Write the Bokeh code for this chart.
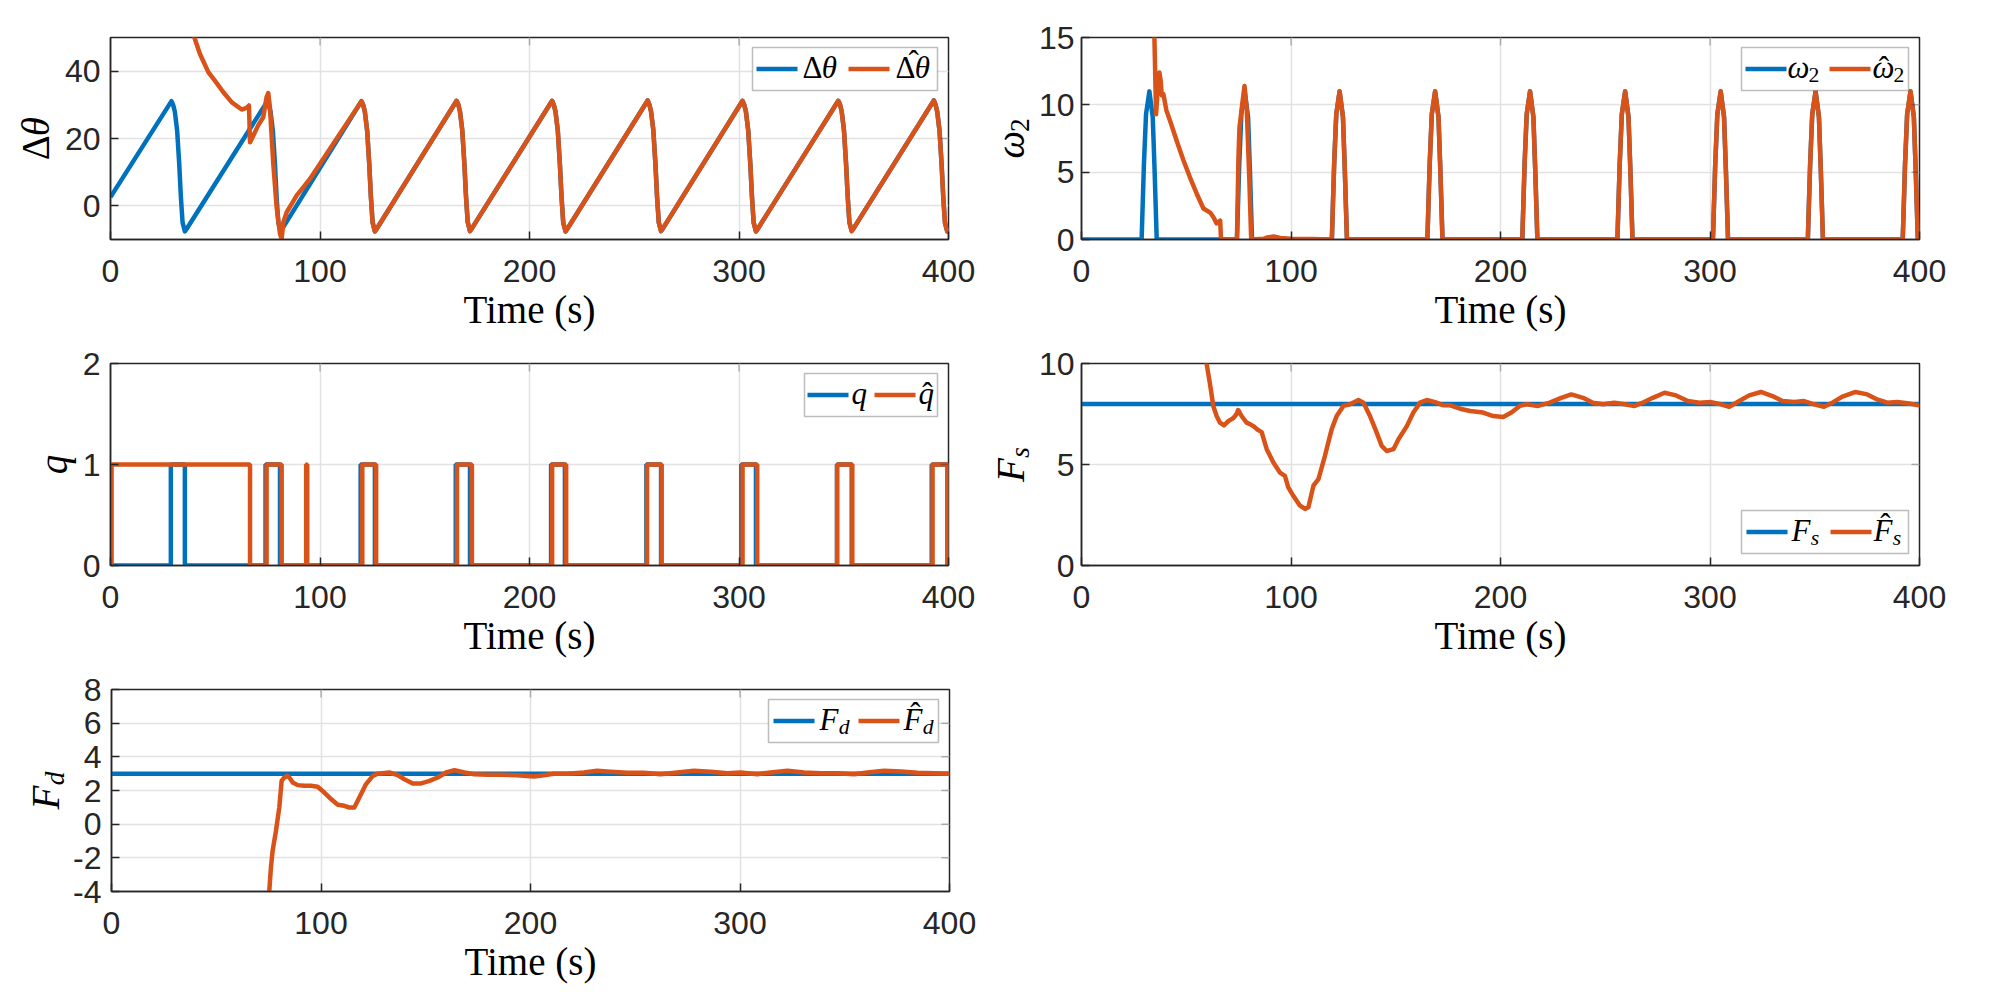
import math

from bokeh.embed import file_html
from bokeh.layouts import column, row
from bokeh.models import BoxAnnotation, FixedTicker, Label, Range1d
from bokeh.plotting import figure
from bokeh.resources import INLINE

# ---------------------------------------------------------------- data ----
time_ticks = [0, 100, 200, 300, 400]

# angle error (true) : ramps with a fast drop once per cycle
dtheta_t = [
    0.0, 29.1, 29.9, 30.7, 31.8, 32.8, 33.6, 34.4, 35.5, 36.4,
    74.8, 75.6, 76.4, 77.5, 78.5, 79.3, 80.1, 81.2, 82.1,
    119.8, 120.6, 121.4, 122.5, 123.5, 124.3, 125.1, 126.2, 127.1,
    165.2, 166.0, 166.8, 167.9, 168.9, 169.7, 170.5, 171.6, 172.5,
    210.8, 211.6, 212.4, 213.5, 214.5, 215.3, 216.1, 217.2, 218.1,
    256.4, 257.2, 258.0, 259.1, 260.1, 260.9, 261.7, 262.8, 263.7,
    301.7, 302.5, 303.3, 304.4, 305.4, 306.2, 307.0, 308.1, 309.0,
    347.4, 348.2, 349.0, 350.1, 351.1, 351.9, 352.7, 353.8, 354.7,
    393.0, 393.8, 394.6, 395.7, 396.7, 397.5, 398.3, 399.4, 400.0,
]
dtheta = [
    2.6, 31.1, 30.0, 28.0, 22.4, 12.5, 2.6, -4.9, -7.6, -6.8,
    31.0, 29.9, 27.9, 22.3, 12.4, 2.5, -5.0, -7.5, -6.7,
    31.1, 30.0, 28.0, 22.4, 12.5, 2.6, -4.9, -7.6, -6.8,
    31.2, 30.1, 28.1, 22.5, 12.6, 2.7, -4.8, -7.5, -6.7,
    31.2, 30.0, 28.0, 22.4, 12.4, 2.5, -5.0, -7.6, -6.8,
    31.3, 30.1, 28.1, 22.5, 12.5, 2.6, -4.9, -7.5, -6.7,
    31.2, 30.0, 28.0, 22.4, 12.4, 2.5, -5.0, -7.6, -6.8,
    31.2, 30.1, 28.1, 22.5, 12.5, 2.6, -4.9, -7.5, -6.7,
    31.3, 30.1, 28.0, 22.4, 12.4, 2.5, -5.0, -7.6, -7.3,
]
# estimate: transient before it locks onto the true signal
dtheta_hat_start_t = [
    38.6, 40.0, 42.7, 46.7, 49.8, 53.8, 57.8, 62.6, 65.0, 66.1, 66.6, 67.8,
    70.5, 72.9, 74.5, 75.3, 76.1, 77.7, 79.3, 80.9, 81.7, 82.5, 84.1, 86.5,
    88.9, 92.0, 95.2,
]
dtheta_hat_start = [
    54.0, 50.1, 45.1, 39.7, 37.2, 33.8, 30.8, 28.6, 29.1, 29.8, 18.9, 20.4,
    23.9, 26.3, 32.3, 33.5, 29.3, 12.5, -0.4, -8.3, -9.8, -4.9, -1.9, 0.6,
    3.1, 5.5, 8.0,
]

# angular rate (true)
w2_t = [
    0.0,
    28.7, 29.8, 30.8, 32.4, 34.0, 34.9, 35.9,
    74.2, 75.3, 76.3, 77.9, 79.5, 80.4, 81.4,
    119.5, 120.6, 121.6, 123.2, 124.8, 125.7, 126.7,
    165.1, 166.2, 167.2, 168.8, 170.4, 171.3, 172.3,
    210.4, 211.5, 212.5, 214.1, 215.7, 216.6, 217.6,
    255.8, 256.9, 257.9, 259.5, 261.1, 262.0, 263.0,
    301.4, 302.5, 303.5, 305.1, 306.7, 307.6, 308.6,
    346.7, 347.8, 348.8, 350.4, 352.0, 352.9, 353.9,
    392.0, 393.1, 394.1, 395.7, 397.3, 398.2, 399.2,
    400.0,
]
w2 = [
    0.0,
    0.0, 5.6, 9.3, 11.0, 9.1, 5.1, 0.0,
    0.0, 5.6, 9.3, 11.0, 9.1, 5.1, 0.0,
    0.0, 5.6, 9.3, 11.0, 9.1, 5.1, 0.0,
    0.0, 5.6, 9.3, 11.0, 9.1, 5.1, 0.0,
    0.0, 5.6, 9.3, 11.0, 9.1, 5.1, 0.0,
    0.0, 5.6, 9.3, 11.0, 9.1, 5.1, 0.0,
    0.0, 5.6, 9.3, 11.0, 9.1, 5.1, 0.0,
    0.0, 5.6, 9.3, 11.0, 9.1, 5.1, 0.0,
    0.0, 5.6, 9.3, 11.0, 9.1, 5.1, 0.0,
    0.0,
]
w2_hat_start_t = [
    34.6, 34.8, 35.6, 36.3, 37.2, 37.8, 38.3, 39.1, 40.5, 42.3, 45.5, 48.6,
    51.8, 55.0, 58.2, 61.4, 63.0, 64.5, 66.2, 66.6, 74.2, 74.9, 75.4, 76.6,
    77.8, 78.9, 80.1, 81.0, 86.9, 88.5, 91.7, 94.9, 99.7, 110.0,
]
w2_hat_start = [
    16.5, 15.0, 9.3, 11.0, 12.4, 11.8, 10.7, 10.8, 9.6, 8.8, 7.3, 5.9,
    4.6, 3.4, 2.3, 2.0, 1.65, 1.2, 1.4, 0.0, 0.0, 6.0, 8.3, 9.9,
    11.4, 9.6, 4.5, 0.0, 0.05, 0.15, 0.22, 0.12, 0.05, 0.03,
]

# discrete mode (switch instants, value held until the next one)
q_t = [0.0, 28.8, 35.5, 74.0, 80.9, 119.4, 126.2, 164.8, 171.6, 210.3, 216.9,
       255.8, 262.8, 301.1, 308.1, 346.8, 353.8, 392.0, 399.5, 400.0]
q = [0, 1, 0, 1, 0, 1, 0, 1, 0, 1, 0, 1, 0, 1, 0, 1, 0, 1, 0, 0]
q_hat_t = [0.0, 0.5, 66.6, 74.5, 81.7, 93.4, 93.9, 120.2, 126.8, 165.4, 172.5,
           210.8, 217.5, 256.1, 263.1, 301.7, 308.7, 346.8, 354.1, 392.4,
           399.7, 400.0]
q_hat = [0, 1, 0, 1, 0, 1, 0, 1, 0, 1, 0, 1, 0, 1, 0, 1, 0, 1, 0, 1, 0, 0]

# static friction (true constant and estimate)
fs_t = [0.0, 400.0]
fs = [8.0, 8.0]
fs_hat_t = [
    58.9, 59.7, 61.3, 62.9, 64.5, 66.1, 68.0, 70.1, 72.5, 74.0, 74.8, 76.4,
    78.8, 80.4, 82.0, 84.4, 86.0, 88.4, 91.6, 94.7, 97.1, 98.7, 101.1, 104.3,
    106.7, 108.3, 110.7, 113.1, 116.2, 119.4, 121.8, 125.0, 128.2, 132.2,
    134.6, 137.7, 140.9, 143.3, 145.7, 148.9, 151.3, 155.3, 158.4, 161.6,
    164.8, 168.8, 172.8, 176.0, 180.7, 185.5, 191.7, 196.5, 201.3, 205.2,
    209.2, 212.4, 217.9, 223.5, 229.0, 233.8, 239.4, 244.1, 248.9, 254.4,
    259.2, 264.0, 267.9, 272.7, 278.3, 283.8, 289.4, 294.9, 300.5, 305.2,
    309.2, 314.0, 318.7, 324.3, 329.8, 334.6, 340.2, 344.9, 349.7, 354.4,
    358.4, 363.2, 369.5, 375.1, 379.8, 384.6, 389.4, 394.1, 399.7, 400.0,
]
fs_hat = [
    11.2, 10.0, 9.0, 7.9, 7.4, 7.07, 6.94, 7.15, 7.3, 7.5, 7.7, 7.4,
    7.07, 7.0, 6.9, 6.7, 6.6, 5.76, 5.1, 4.6, 4.44, 3.87, 3.45, 2.96,
    2.8, 2.88, 3.95, 4.28, 5.43, 6.74, 7.4, 7.9, 7.98, 8.19,
    8.06, 7.4, 6.58, 5.92, 5.67, 5.76, 6.25, 6.9, 7.57, 8.06,
    8.19, 8.09, 7.93, 7.93, 7.76, 7.65, 7.57, 7.4, 7.35, 7.57,
    7.9, 7.98, 7.9, 8.06, 8.3, 8.47, 8.3, 8.06, 7.98, 8.06,
    7.98, 7.9, 8.06, 8.3, 8.55, 8.42, 8.14, 8.06, 8.09, 7.98,
    7.86, 8.14, 8.42, 8.59, 8.39, 8.14, 8.09, 8.14, 7.98, 7.86,
    8.06, 8.36, 8.59, 8.47, 8.22, 8.06, 8.09, 8.03, 7.93, 7.95,
]

# dynamic friction (true constant and estimate)
fd_t = [0.0, 400.0]
fd = [3.0, 3.0]
fd_hat_t = [
    75.0, 75.3, 76.1, 76.9, 78.5, 80.1, 81.2, 82.2, 83.8, 84.9, 86.5, 88.9,
    92.0, 95.2, 98.4, 101.6, 104.8, 108.0, 111.1, 113.5, 115.9, 118.3, 121.5,
    124.7, 127.1, 132.6, 136.6, 139.8, 143.8, 147.8, 151.8, 155.7, 159.7,
    163.7, 168.5, 173.2, 179.6, 186.0, 193.6, 201.6, 206.4, 211.1, 217.5,
    225.5, 231.8, 238.2, 246.2, 254.1, 262.1, 270.1, 278.0, 286.0, 294.0,
    300.3, 308.3, 314.6, 322.6, 330.6, 338.5, 346.5, 354.5, 360.8, 368.8,
    376.8, 384.7, 392.7, 399.8, 400.0,
]
fd_hat = [
    -4.6, -4.0, -2.57, -1.58, -0.4, 0.99, 2.57, 2.73, 2.87, 2.77, 2.48, 2.32,
    2.28, 2.28, 2.22, 1.88, 1.49, 1.15, 1.09, 0.99, 0.99, 1.58, 2.38,
    2.87, 3.0, 3.07, 2.91, 2.67, 2.42, 2.42, 2.57, 2.77, 3.07,
    3.21, 3.07, 2.97, 2.93, 2.93, 2.91, 2.83, 2.91, 3.0, 3.0,
    3.07, 3.17, 3.11, 3.05, 3.05, 2.97, 3.07, 3.17, 3.11, 3.03,
    3.07, 2.97, 3.07, 3.17, 3.07, 3.03, 3.03, 2.97, 3.07, 3.17,
    3.13, 3.05, 3.03, 3.0, 3.0,
]

# once converged, the estimates coincide with the true signals
dtheta_hat_t = dtheta_hat_start_t + [t for t in dtheta_t if t > 96]
dtheta_hat = dtheta_hat_start + [v for t, v in zip(dtheta_t, dtheta) if t > 96]
w2_hat_t = w2_hat_start_t + [t for t in w2_t if t > 119]
w2_hat = w2_hat_start + [v for t, v in zip(w2_t, w2) if t > 119]

# --------------------------------------------------------------- style ----
BLUE = "#0072BD"
ORANGE = "#D95319"
INK = "#262626"
GRID = "#e2e2e2"
SANS = "Liberation Sans"
SERIF = "Liberation Serif"
FW, FH = 838, 202
LW = 4.5
HAT = "\u02c6"
# the label anchor sits a little above the glyph baseline; this pulls it back
BASELINE_FIX = 0.3

# symbol pieces: (text, fixed position in em or None, advance in em,
#                 relative size, italic, baseline drop in em)
SYM = {
    "dtheta": [("Δ", None, 0.62, 1.0, False, 0.0), ("θ", None, 0.5, 1.0, True, 0.0)],
    "dtheta_hat": [("Δ", None, 0.62, 1.0, False, 0.0), ("θ", None, 0.5, 1.0, True, 0.0),
                   (HAT, 0.42, 0.0, 1.0, False, -0.2)],
    "w2": [("ω", None, 0.68, 1.0, True, 0.0), ("2", None, 0.5, 0.7, False, 0.15)],
    "w2_hat": [("ω", None, 0.68, 1.0, True, 0.0), ("2", None, 0.5, 0.7, False, 0.15),
               (HAT, 0.2, 0.0, 1.0, False, 0.0)],
    "q": [("q", None, 0.5, 1.0, True, 0.0)],
    "q_hat": [("q", None, 0.5, 1.0, True, 0.0), (HAT, 0.12, 0.0, 1.0, False, 0.0)],
    "Fs": [("F", None, 0.62, 1.0, True, 0.0), ("s", None, 0.4, 0.7, True, 0.15)],
    "Fs_hat": [("F", None, 0.62, 1.0, True, 0.0), ("s", None, 0.4, 0.7, True, 0.15),
               (HAT, 0.22, 0.0, 1.0, False, -0.2)],
    "Fd": [("F", None, 0.62, 1.0, True, 0.0), ("d", None, 0.5, 0.7, True, 0.15)],
    "Fd_hat": [("F", None, 0.62, 1.0, True, 0.0), ("d", None, 0.5, 0.7, True, 0.15),
               (HAT, 0.22, 0.0, 1.0, False, -0.2)],
}


def math_label(p, pieces, x, y, size, rotated=False, center=False):
    """Lay out a symbol with sub-scripts and accents as separate text pieces.
    (x, y) is the start of the baseline, in screen units of the frame."""
    total = sum(adv * scale * size for _, _, adv, scale, _, _ in pieces)
    start = -total / 2 if center else 0.0
    u = start
    for text, at, adv, scale, italic, drop in pieces:
        fs_px = size * scale
        pos = start + at * size if at is not None else u
        shift = drop * size - BASELINE_FIX * fs_px
        if rotated:
            lx, ly = x + shift, y + pos
        else:
            lx, ly = x + pos, y - shift
        p.add_layout(Label(
            x=lx, y=ly, x_units="screen", y_units="screen", text=text,
            angle=math.pi / 2 if rotated else 0.0,
            text_font=SERIF, text_font_style="italic" if italic else "normal",
            text_font_size=f"{fs_px:.1f}px", text_color="black",
            text_align="left", text_baseline="alphabetic"))
        if at is None:
            u += adv * fs_px


def style_axis(ax, ticks, standoff):
    ax.ticker = FixedTicker(ticks=ticks)
    # plain hyphen for negative tick values
    ax.major_label_overrides = {t: str(t) for t in ticks if t < 0}
    ax.major_tick_in = 8
    ax.major_tick_out = 0
    ax.major_tick_line_color = INK
    ax.major_tick_line_width = 1.5
    ax.minor_tick_line_color = None
    ax.axis_line_color = INK
    ax.axis_line_width = 1.5
    ax.major_label_text_font = SANS
    ax.major_label_text_font_size = "32px"
    ax.major_label_text_color = INK
    ax.major_label_standoff = standoff


def panel(y_lo, y_hi, y_ticks, left, right, top, bottom, y_standoff=10):
    p = figure(frame_width=FW, frame_height=FH,
               x_range=Range1d(0, 400), y_range=Range1d(y_lo, y_hi),
               output_backend="svg", toolbar_location=None, title=None,
               min_border_left=left, min_border_right=right,
               min_border_top=top, min_border_bottom=bottom,
               background_fill_color="white", border_fill_color="white",
               outline_line_color=INK, outline_line_width=1.5)
    xax, yax = p.below[0], p.left[0]
    style_axis(xax, time_ticks, 20)
    style_axis(yax, y_ticks, y_standoff)
    xax.axis_label = "Time (s)"
    xax.axis_label_text_font = SERIF
    xax.axis_label_text_font_style = "normal"
    xax.axis_label_text_font_size = "39px"
    xax.axis_label_text_color = "black"
    xax.axis_label_standoff = 3
    for g in (p.xgrid[0], p.ygrid[0]):
        g.grid_line_color = GRID
        g.grid_line_width = 1.5
    # mirrored inward tick marks along the top and right edges of the box
    for t in time_ticks[1:-1]:
        p.add_layout(BoxAnnotation(
            left=t, right=t, top=FH, bottom=FH - 8,
            top_units="screen", bottom_units="screen",
            fill_color=None, line_color=INK, line_width=1.5))
    for v in y_ticks[1:-1]:
        p.add_layout(BoxAnnotation(
            bottom=v, top=v, left=FW - 8, right=FW,
            left_units="screen", right_units="screen",
            fill_color=None, line_color=INK, line_width=1.5))
    return p


def ylabel_strip(width, height, key, baseline_x):
    """Narrow blank strip that carries the rotated y label of the panel to its right.
    Inside a row its frame lines up with the neighbouring panel's frame."""
    f = figure(width=width, height=height, min_border=0, title=None,
               toolbar_location=None, output_backend="svg",
               x_axis_location=None, y_axis_location=None,
               x_range=Range1d(0, 1), y_range=Range1d(0, 1),
               outline_line_color=None, background_fill_color="white",
               border_fill_color="white")
    f.grid.visible = False
    math_label(f, SYM[key], baseline_x, FH / 2, 39, rotated=True, center=True)
    return f


def legend(p, entries, spec, at_top=True):
    width, s1, l1, s2, l2 = spec
    height = 43
    right = FW - 11
    left = right - width
    if at_top:
        top = FH - 10
        bottom = top - height
    else:
        bottom = 12
        top = bottom + height
    p.add_layout(BoxAnnotation(
        left=left, right=right, top=top, bottom=bottom,
        left_units="screen", right_units="screen", top_units="screen", bottom_units="screen",
        fill_color="white", fill_alpha=1.0, line_color=INK, line_width=1.5))
    cy = (top + bottom) / 2
    for (color, key), sx, lx in zip(entries, (s1, s2), (l1, l2)):
        p.add_layout(BoxAnnotation(
            left=left + sx, right=left + sx + 41, bottom=cy - 2.25, top=cy + 2.25,
            left_units="screen", right_units="screen", top_units="screen", bottom_units="screen",
            fill_color=color, fill_alpha=1.0, line_color=None))
        math_label(p, SYM[key], left + lx, cy - 8, 31)


# -------------------------------------------------------------- panels ----
H1, H2, H3 = 345, 326, 323
B12, B3 = 106, 103

p1 = panel(-10, 50, [0, 20, 40], 50, 27, 37, B12)
p1.line(dtheta_t, dtheta, line_color=BLUE, line_width=LW, line_join="round")
p1.line(dtheta_hat_t, dtheta_hat, line_color=ORANGE, line_width=LW, line_join="round")
legend(p1, [(BLUE, "dtheta"), (ORANGE, "dtheta_hat")], (185, 4, 50, 96, 143))

p2 = panel(0, 15, [0, 5, 10, 15], 43, 84, 37, B12, y_standoff=7)
p2.line(w2_t, w2, line_color=BLUE, line_width=LW, line_join="round")
p2.line(w2_hat_t, w2_hat, line_color=ORANGE, line_width=LW, line_join="round")
legend(p2, [(BLUE, "w2"), (ORANGE, "w2_hat")], (167, 4, 46, 88, 131))

p3 = panel(0, 2, [0, 1, 2], 32, 27, 18, B12)
p3.step(q_t, q, mode="after", line_color=BLUE, line_width=LW)
p3.step(q_hat_t, q_hat, mode="after", line_color=ORANGE, line_width=LW)
legend(p3, [(BLUE, "q"), (ORANGE, "q_hat")], (133, 3, 47, 70, 114))

p4 = panel(0, 10, [0, 5, 10], 43, 84, 18, B12, y_standoff=7)
p4.line(fs_t, fs, line_color=BLUE, line_width=LW)
p4.line(fs_hat_t, fs_hat, line_color=ORANGE, line_width=LW, line_join="round")
legend(p4, [(BLUE, "Fs"), (ORANGE, "Fs_hat")], (167, 5, 50, 89, 132), at_top=False)

p5 = panel(-4, 8, [-4, -2, 0, 2, 4, 6, 8], 40, 52, 18, B3)
p5.line(fd_t, fd, line_color=BLUE, line_width=LW)
p5.line(fd_hat_t, fd_hat, line_color=ORANGE, line_width=LW, line_join="round")
legend(p5, [(BLUE, "Fd"), (ORANGE, "Fd_hat")], (170, 5, 51, 90, 135))

layout = column(
    row(ylabel_strip(60, H1, "dtheta", 47), p1,
        ylabel_strip(60, H1, "w2", 47), p2),
    row(ylabel_strip(78, H2, "q", 64.5), p3,
        ylabel_strip(60, H2, "Fs", 47), p4),
    row(ylabel_strip(70, H3, "Fd", 57), p5),
)
open("out.html", "w").write(file_html(layout, INLINE))
